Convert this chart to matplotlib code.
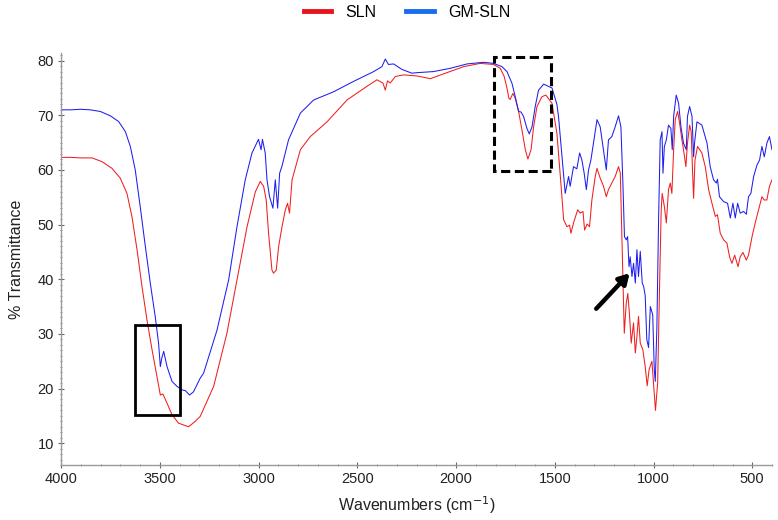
import matplotlib
matplotlib.use("Agg")
import matplotlib.pyplot as plt
from matplotlib.lines import Line2D
from matplotlib.patches import Rectangle
from matplotlib.ticker import MultipleLocator

plt.rcParams['font.family'] = ['Liberation Sans', 'DejaVu Sans']

# ---- data (wavenumber cm-1, % transmittance) ----
gm_wn = [4000, 3950, 3900, 3852, 3801, 3750, 3708, 3674, 3649, 3624, 3599, 3573, 3548, 3523,
         3506, 3497, 3490, 3480, 3463, 3438, 3413, 3387, 3370, 3349, 3329, 3295, 3278, 3210,
         3151, 3109, 3067, 3033, 3000, 2987, 2980, 2966, 2957, 2944, 2927, 2915, 2903, 2893,
         2881, 2848, 2788, 2721, 2620, 2519, 2417, 2375, 2358, 2342, 2316, 2274, 2223, 2198,
         2114, 2029, 1944, 1860, 1810, 1767, 1742, 1717, 1700, 1683, 1671, 1658, 1641, 1629,
         1615, 1599, 1582, 1556, 1514, 1489, 1481, 1463, 1447, 1430, 1422, 1405, 1388, 1374,
         1363, 1351, 1340, 1329, 1317, 1304, 1286, 1270, 1256, 1239, 1228, 1211, 1194, 1177,
         1165, 1155, 1147, 1138, 1131, 1124, 1118, 1109, 1101, 1092, 1084, 1076, 1067, 1057,
         1050, 1042, 1034, 1025, 1016, 1004, 996, 991, 983, 974, 966, 957, 952, 945, 935, 924,
         912, 905, 898, 885, 873, 861, 848, 834, 828, 817, 805, 797, 792, 780, 755, 729, 713,
         696, 682, 676, 666, 645, 625, 611, 598, 586, 574, 561, 544, 530, 519, 507, 493, 476,
         463, 451, 439, 426, 413, 400]
gm_t = [71.0, 71.0, 71.1, 71.0, 70.7, 69.9, 68.85, 67.0, 64.3, 60.0, 53.3, 46.0, 39.3, 33.2,
        28.3, 24.0, 25.5, 26.8, 24.0, 21.3, 20.4, 19.75, 19.6, 18.8, 19.4, 21.9, 22.8, 30.7,
        39.9, 49.6, 58.2, 63.1, 65.6, 63.7, 65.6, 63.1, 58.2, 55.1, 53.0, 58.2, 53.0, 59.4,
        60.7, 65.5, 70.4, 72.8, 74.3, 76.2, 78.0, 78.9, 80.3, 79.3, 79.4, 78.4, 77.7, 77.8,
        78.0, 78.6, 79.4, 79.7, 79.5, 78.9, 78.0, 75.9, 73.4, 70.7, 70.6, 69.8, 67.6, 66.6,
        67.9, 71.6, 74.6, 75.7, 75.0, 72.0, 69.8, 62.4, 55.7, 58.8, 57.0, 60.6, 60.2, 63.1,
        61.9, 59.4, 56.4, 60.0, 61.8, 64.9, 69.2, 67.9, 64.3, 60.0, 65.5, 66.1, 67.9, 69.9,
        67.9, 57.6, 47.8, 47.2, 47.8, 42.3, 44.1, 40.5, 42.9, 39.3, 45.4, 40.5, 45.1, 39.3,
        38.7, 37.0, 29.0, 27.5, 35.0, 33.5, 23.4, 21.3, 31.0, 51.5, 65.5, 67.0, 59.4, 64.3,
        65.5, 68.2, 67.6, 63.7, 69.8, 73.7, 72.2, 67.9, 64.9, 63.7, 69.8, 71.6, 69.8, 62.4,
        65.0, 68.8, 68.2, 64.9, 60.6, 58.2, 57.6, 58.3, 55.1, 54.2, 53.9, 51.2, 53.9, 51.2,
        53.9, 52.1, 52.4, 51.9, 55.1, 55.7, 58.8, 60.9, 61.8, 64.3, 62.4, 64.9, 66.1, 63.7]

sln_wn = [4000, 3950, 3900, 3842, 3792, 3742, 3700, 3666, 3641, 3615, 3590, 3565, 3539, 3514,
          3497, 3484, 3463, 3438, 3405, 3354, 3320, 3295, 3227, 3160, 3109, 3058, 3016, 2991,
          2974, 2961, 2949, 2932, 2924, 2910, 2898, 2881, 2864, 2853, 2843, 2830, 2788, 2738,
          2653, 2552, 2451, 2400, 2370, 2358, 2347, 2333, 2307, 2265, 2198, 2130, 2046, 1962,
          1877, 1810, 1776, 1756, 1742, 1732, 1726, 1712, 1700, 1683, 1666, 1649, 1636, 1620,
          1607, 1590, 1565, 1545, 1514, 1489, 1469, 1455, 1438, 1425, 1418, 1405, 1384, 1371,
          1357, 1349, 1336, 1324, 1312, 1295, 1286, 1270, 1253, 1239, 1228, 1211, 1194, 1177,
          1168, 1160, 1148, 1138, 1130, 1121, 1113, 1101, 1092, 1084, 1076, 1067, 1054, 1042,
          1032, 1022, 1008, 1000, 990, 979, 969, 961, 956, 945, 935, 924, 915, 907, 898, 890,
          878, 868, 856, 848, 836, 828, 817, 809, 802, 797, 790, 777, 755, 738, 721, 704, 687,
          676, 662, 645, 628, 615, 603, 589, 572, 561, 547, 530, 519, 501, 485, 468, 451, 439,
          426, 413, 400]
sln_t = [62.3, 62.3, 62.2, 62.2, 61.5, 60.3, 58.5, 55.7, 51.5, 45.4, 38.7, 32.6, 27.1, 22.2,
         18.8, 19.0, 17.3, 15.2, 13.66, 13.0, 14.0, 14.9, 20.4, 30.1, 39.9, 49.6, 56.0, 57.9,
         57.0, 54.5, 48.4, 41.7, 41.1, 41.7, 46.0, 49.6, 52.7, 53.9, 52.1, 58.2, 63.7, 66.1,
         68.8, 72.8, 75.3, 76.5, 75.9, 74.6, 76.3, 75.9, 77.1, 77.4, 77.2, 76.7, 77.8, 78.9,
         79.5, 79.3, 78.6, 77.1, 75.0, 73.1, 72.9, 74.0, 73.1, 70.7, 67.3, 63.7, 62.0, 63.7,
         67.9, 71.6, 73.4, 73.7, 72.2, 66.7, 57.6, 50.9, 49.6, 49.9, 48.4, 50.3, 52.7, 52.1,
         52.4, 49.0, 50.1, 49.6, 54.5, 58.8, 60.3, 58.5, 57.0, 55.1, 56.4, 57.6, 58.8, 60.6,
         59.4, 47.8, 30.1, 35.6, 37.4, 33.2, 28.3, 32.0, 26.5, 29.5, 33.2, 28.3, 27.1, 24.0,
         20.5, 23.5, 25.0, 21.0, 16.0, 21.0, 39.3, 52.7, 55.7, 53.3, 50.3, 56.4, 57.6, 55.7,
         63.7, 69.2, 70.7, 68.6, 65.5, 63.7, 60.6, 64.9, 68.2, 67.0, 59.4, 54.8, 61.8, 64.3,
         63.1, 60.6, 56.4, 53.9, 51.5, 51.8, 48.4, 47.2, 46.6, 44.1, 42.9, 44.4, 42.3, 44.1,
         44.9, 43.5, 44.4, 47.8, 50.3, 52.7, 55.1, 54.5, 54.5, 57.0, 58.2]

series_names = ["SLN", "GM-SLN"]
x_ticks = [4000, 3500, 3000, 2500, 2000, 1500, 1000, 500]
y_ticks = [10, 20, 30, 40, 50, 60, 70, 80]

# ---- figure ----
fig = plt.figure(figsize=(7.78, 5.20), dpi=100)
ax = fig.add_axes([61 / 778, 55 / 520, (772 - 61) / 778, (465 - 53) / 520])

ax.plot(sln_wn, sln_t, color='#f01e1e', lw=0.75)
ax.plot(gm_wn, gm_t, color='#1e1ef0', lw=0.75)

ax.set_xlim(4000, 400)
ax.set_ylim(6.0, 81.4)
ax.set_xticks(x_ticks)
ax.set_yticks(y_ticks)
ax.xaxis.set_minor_locator(MultipleLocator(100))
ax.yaxis.set_minor_locator(MultipleLocator(1))

for s in ['top', 'right']:
    ax.spines[s].set_visible(False)
for s in ['left', 'bottom']:
    ax.spines[s].set_color('#9a9a9a')
    ax.spines[s].set_linewidth(1.0)

ax.tick_params(axis='both', which='major', direction='inout', length=4, width=0.8,
               color='#666666', labelsize=10.5, labelcolor='#222222', pad=3)
ax.tick_params(axis='both', which='minor', direction='inout', length=2, width=0.6,
               color='#777777')

ax.set_xlabel('Wavenumbers (cm$^{-1}$)', fontsize=11.5, color='#222222', labelpad=6)
ax.set_ylabel('% Transmittance', fontsize=11.5, color='#222222', labelpad=10)

# annotations
ax.add_patch(Rectangle((3400, 15.2), 225, 16.4, fill=False, edgecolor='black', lw=2.0,
                       zorder=5))
ax.add_patch(Rectangle((1517, 59.8), 289, 20.9, fill=False, edgecolor='black', lw=2.2,
                       linestyle=(0, (3, 1.5)), zorder=5))
ax.annotate('', xy=(1121, 41.1), xytext=(1290, 34.6),
            arrowprops=dict(arrowstyle='-|>,head_length=0.6,head_width=0.35', lw=3.2,
                            color='black', shrinkA=0, shrinkB=0), zorder=6)

# legend
handles = [Line2D([], [], color='#e8141c', lw=3.5),
           Line2D([], [], color='#1a6cf0', lw=3.5)]
fig.legend(handles, series_names, loc='upper center', bbox_to_anchor=(0.523, 1.018), ncol=2,
           frameon=False, fontsize=11.5, handlelength=1.7, columnspacing=1.9,
           handletextpad=0.9)

fig.savefig('out.png', dpi=100)
